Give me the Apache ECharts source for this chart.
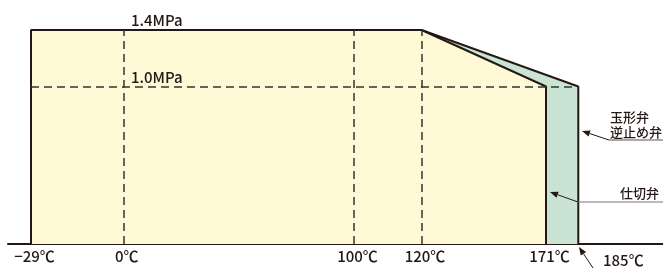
<!DOCTYPE html>
<html>
<head>
<meta charset="utf-8">
<script src="https://cdn.jsdelivr.net/npm/echarts@6/dist/echarts.min.js"></script>
<style>
  html, body { margin: 0; padding: 0; background: #fff; }
  #chart { width: 663px; height: 268px; }
</style>
</head>
<body>
<div id="chart"></div>
<script>
// 温度・圧力のデータ
const tempTicks = [-29, 0, 100, 120, 171, 185]
const tempLabels = ['−29℃', '0℃', '100℃', '120℃', '171℃', '185℃']
const pressTicks = [0, 1.0, 1.4]
const pressLabels = ['', '1.0MPa', '1.4MPa']

// 仕切弁（黄）と 玉形弁・逆止め弁（緑）の外形
const gateTemp = [-29, -29, 120, 171, 171]
const gatePress = [0, 1.4, 1.4, 1.0, 0]
const globeTemp = [120, 185, 185]
const globePress = [1.4, 1.0, 0]

// 図は模式図なので軸上の位置は区間ごとに割り付ける（レイアウト用）
const tempAxisPos = [23, 115.3, 346, 413.5, 538, 570.3]
const pressAxisPos = [0, 157.5, 214]

const lerp = (v, stops, pos) => {
  for (let i = 0; i < stops.length - 1; i++) {
    if (v <= stops[i + 1] || i === stops.length - 2) {
      const t = (v - stops[i]) / (stops[i + 1] - stops[i])
      return pos[i] + t * (pos[i + 1] - pos[i])
    }
  }
}
const tx = v => lerp(v, tempTicks, tempAxisPos)
const py = v => lerp(v, pressTicks, pressAxisPos)
const toPoints = (ts, ps) => ts.map((t, i) => [tx(t), py(ps[i])])

const ink = '#231815'
const font = '"Noto Sans CJK JP", "Noto Sans", sans-serif'

// 矢印（線＋三角）
const arrow = (x1, y1, x2, y2) => {
  const a = Math.atan2(y2 - y1, x2 - x1)
  const len = 8, w = 3.2
  const bx = x2 - len * Math.cos(a), by = y2 - len * Math.sin(a)
  return [
    { type: 'line', z: 100, shape: { x1, y1, x2: bx, y2: by }, style: { stroke: ink, lineWidth: 1 } },
    {
      type: 'polygon',
      z: 100,
      shape: { points: [[x2, y2], [bx + w * Math.sin(a), by - w * Math.cos(a)], [bx - w * Math.sin(a), by + w * Math.cos(a)]] },
      style: { fill: ink }
    }
  ]
}

const txt = (x, y, text, size, align) => ({
  type: 'text', x, y, z: 100,
  style: { text, font: `500 ${size}px ${font}`, fill: ink, verticalAlign: 'middle', align: align || 'left' }
})

const labelTicks = tempTicks.slice(0, 5).map(tx)

const chart = echarts.init(document.querySelector('#chart'))
const option = {
  animation: false,
  grid: { left: 8, right: 0, top: 30, bottom: 24 },
  xAxis: {
    type: 'value',
    min: 0,
    max: 655,
    axisLine: { show: true, lineStyle: { color: ink, width: 2 } },
    axisTick: { show: false },
    splitLine: { show: false },
    axisLabel: {
      customValues: labelTicks,
      formatter: v => {
        const i = labelTicks.findIndex(p => Math.abs(p - v) < 0.01)
        return i >= 0 ? tempLabels[i] : ''
      },
      margin: 5,
      padding: [0, 0, 0, 7],
      color: ink,
      fontSize: 15,
      fontWeight: 500,
      fontFamily: font
    }
  },
  yAxis: {
    type: 'value',
    min: 0,
    max: 214,
    show: false,
    splitLine: { show: false }
  },
  series: [
    {
      type: 'line',
      data: toPoints(globeTemp, globePress),
      showSymbol: false,
      lineStyle: { color: ink, width: 2 },
      areaStyle: { color: '#c9e4d3', opacity: 1 },
      z: 2
    },
    {
      type: 'line',
      data: toPoints(gateTemp, gatePress),
      showSymbol: false,
      lineStyle: { color: ink, width: 2 },
      areaStyle: { color: '#fff9d6', opacity: 1 },
      z: 3
    },
    {
      type: 'line',
      data: [],
      z: 4,
      markLine: {
        silent: true,
        symbol: 'none',
        label: { show: false },
        lineStyle: { color: '#333', width: 1.5, type: [8, 5] },
        data: [
          { xAxis: tx(0) },
          { xAxis: tx(100) },
          { xAxis: tx(120) },
          [{ coord: [tx(-29), py(1.0)] }, { coord: [tx(185), py(1.0)] }]
        ]
      }
    }
  ],
  graphic: [
    txt(131, 20, pressLabels[2], 15),
    txt(131, 77, pressLabels[1], 15),
    txt(610, 117, '玉形弁', 13),
    txt(610, 132, '逆止め弁', 13),
    txt(659, 193, '仕切弁', 13, 'right'),
    txt(603, 260, tempLabels[5], 15),
    { type: 'line', z: 100, shape: { x1: 609, y1: 140, x2: 663, y2: 140 }, style: { stroke: '#555', lineWidth: 1.2 } },
    { type: 'line', z: 100, shape: { x1: 578, y1: 202, x2: 663, y2: 202 }, style: { stroke: '#777', lineWidth: 1.2 } },
    ...arrow(609, 140, 582, 131),
    ...arrow(578, 202, 550, 192),
    ...arrow(593, 268, 579, 247)
  ]
}
chart.setOption(option)
</script>
</body>
</html>
